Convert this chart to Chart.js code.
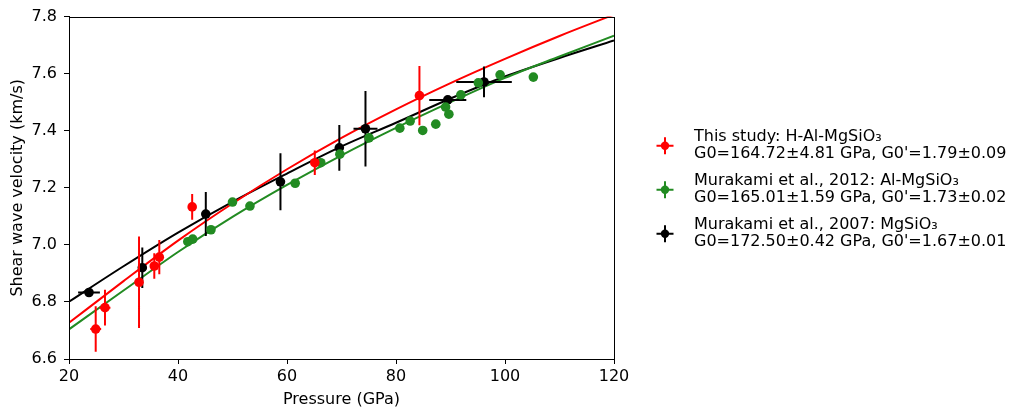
<!DOCTYPE html>
<html>
<head>
<meta charset="utf-8">
<title>Shear wave velocity vs pressure</title>
<script src="https://cdn.jsdelivr.net/npm/chart.js@4.4.1/dist/chart.umd.min.js"></script>
<style>
  html, body { margin: 0; padding: 0; background: #fff; }
  #wrap { position: relative; width: 1017px; height: 416px; }
</style>
</head>
<body>
<div id="wrap"><canvas id="vsChart"></canvas></div>
<script>
// fitted curves, sampled every 10 GPa
const curvePressure = [20, 30, 40, 50, 60, 70, 80, 90, 100, 110, 120];
const curveThisStudy = [6.727, 6.873, 7.015, 7.145, 7.265, 7.375, 7.475, 7.567, 7.652, 7.732, 7.807];
const curveMurakami2012 = [6.704, 6.840, 6.975, 7.098, 7.210, 7.314, 7.410, 7.500, 7.585, 7.660, 7.733];
const curveMurakami2007 = [6.801, 6.925, 7.043, 7.151, 7.250, 7.345, 7.428, 7.513, 7.590, 7.655, 7.716];

// This study: H-Al-MgSiO3
const thisStudyP = [24.9, 26.6, 32.85, 35.65, 36.57, 42.6, 65.1, 84.3];
const thisStudyVs = [6.705, 6.780, 6.869, 6.926, 6.957, 7.133, 7.288, 7.523];
const thisStudyPErr = [1.0, 1.0, 0.7, 0.7, 0.7, 0.7, 0.7, 0.7];
const thisStudyVsErr = [0.080, 0.063, 0.160, 0.045, 0.060, 0.045, 0.043, 0.104];

// Murakami et al., 2012: Al-MgSiO3
const murakami2012P = [41.8, 42.7, 46.05, 50.0, 53.2, 61.5, 66.2, 69.7, 75.05, 80.7, 82.6, 84.9, 87.3, 89.1, 89.7, 91.9, 95.1, 99.1, 105.2];
const murakami2012Vs = [7.011, 7.020, 7.053, 7.150, 7.136, 7.216, 7.288, 7.318, 7.375, 7.409, 7.434, 7.401, 7.423, 7.483, 7.458, 7.526, 7.568, 7.596, 7.588];

// Murakami et al., 2007: MgSiO3
const murakami2007P = [23.67, 33.45, 45.1, 58.8, 69.6, 74.4, 89.5, 96.15];
const murakami2007Vs = [6.833, 6.920, 7.108, 7.221, 7.340, 7.407, 7.508, 7.571];
const murakami2007PErr = [2.0, 0.5, 0.5, 0.5, 0.5, 2.2, 3.4, 5.1];
const murakami2007VsErr = [0.01, 0.071, 0.077, 0.100, 0.080, 0.132, 0.01, 0.054];

const legendTitles = ["This study: H-Al-MgSiO\u2083", "Murakami et al., 2012: Al-MgSiO\u2083", "Murakami et al., 2007: MgSiO\u2083"];
const legendFits = ["G0=164.72\u00b14.81 GPa, G0'=1.79\u00b10.09", "G0=165.01\u00b11.59 GPa, G0'=1.73\u00b10.02", "G0=172.50\u00b10.42 GPa, G0'=1.67\u00b10.01"];

const RED = "#ff0000";
const GREEN = "#228b22";
const BLACK = "#000000";
const seriesColors = [RED, GREEN, BLACK];

const FONT = "DejaVu Sans";
const FONT_SIZE = 16;
Chart.defaults.font.family = FONT;
Chart.defaults.font.size = FONT_SIZE;
Chart.defaults.color = "#000";

function toPoints(xs, ys) {
  return xs.map((x, i) => ({ x: x, y: ys[i] }));
}

function curve(ys, color) {
  return {
    type: "line",
    data: toPoints(curvePressure, ys),
    borderColor: color,
    borderWidth: 2,
    pointRadius: 0,
    cubicInterpolationMode: "monotone",
    clip: 0,
    order: 10,
  };
}

function points(xs, ys, color, xErr, yErr) {
  return {
    type: "scatter",
    data: toPoints(xs, ys),
    backgroundColor: color,
    borderWidth: 0,
    pointRadius: 4.8,
    pointHoverRadius: 4.8,
    errX: xErr,
    errY: yErr,
    order: 1,
  };
}

// x/y error bars, drawn just under each dataset's markers
const errorBars = {
  id: "errorBars",
  beforeDatasetDraw(chart, args) {
    const ds = chart.data.datasets[args.index];
    if (!ds.errX && !ds.errY) return;
    const { ctx, chartArea: a } = chart;
    const xs = chart.scales.x, ys = chart.scales.y;
    ctx.save();
    ctx.beginPath();
    ctx.rect(a.left, a.top, a.right - a.left, a.bottom - a.top);
    ctx.clip();
    ctx.strokeStyle = ds.backgroundColor;
    ctx.lineWidth = 2;
    ctx.beginPath();
    ds.data.forEach((p, i) => {
      const px = xs.getPixelForValue(p.x), py = ys.getPixelForValue(p.y);
      const ex = ds.errX ? ds.errX[i] : 0;
      const ey = ds.errY ? ds.errY[i] : 0;
      if (ex) {
        ctx.moveTo(xs.getPixelForValue(p.x - ex), py);
        ctx.lineTo(xs.getPixelForValue(p.x + ex), py);
      }
      if (ey) {
        ctx.moveTo(px, ys.getPixelForValue(p.y - ey));
        ctx.lineTo(px, ys.getPixelForValue(p.y + ey));
      }
    });
    ctx.stroke();
    ctx.restore();
  },
};

// box around the plot area (top and right sides too)
const frame = {
  id: "frame",
  afterDraw(chart) {
    const { ctx, chartArea: a } = chart;
    ctx.save();
    ctx.strokeStyle = "#000";
    ctx.lineWidth = 1;
    ctx.strokeRect(Math.round(a.left) + 0.5, Math.round(a.top) + 0.5,
      Math.round(a.right - a.left), Math.round(a.bottom - a.top));
    ctx.restore();
  },
};

// legend on the right: errorbar marker plus two text lines per entry
const sideLegend = {
  id: "sideLegend",
  afterDraw(chart) {
    const ctx = chart.ctx;
    const a = chart.chartArea;
    const mid = (a.top + a.bottom) / 2 + 2;
    const gap = 44;
    ctx.save();
    ctx.font = FONT_SIZE + "px '" + FONT + "'";
    ctx.textBaseline = "middle";
    legendTitles.forEach((title, i) => {
      const cy = mid - gap + i * gap;
      const mx = 665;
      ctx.strokeStyle = seriesColors[i];
      ctx.fillStyle = seriesColors[i];
      ctx.lineWidth = 2;
      ctx.beginPath();
      ctx.moveTo(mx - 8.5, cy); ctx.lineTo(mx + 8.5, cy);
      ctx.moveTo(mx, cy - 8.5); ctx.lineTo(mx, cy + 8.5);
      ctx.stroke();
      ctx.beginPath();
      ctx.arc(mx, cy, 4.2, 0, Math.PI * 2);
      ctx.fill();
      ctx.fillStyle = "#000";
      ctx.fillText(title, 694, cy - 8.5);
      ctx.fillText(legendFits[i], 694, cy + 8.5);
    });
    ctx.restore();
  },
};

new Chart(document.getElementById("vsChart"), {
  type: "scatter",
  data: {
    datasets: [
      curve(curveThisStudy, RED),
      curve(curveMurakami2012, GREEN),
      curve(curveMurakami2007, BLACK),
      points(thisStudyP, thisStudyVs, RED, thisStudyPErr, thisStudyVsErr),
      points(murakami2012P, murakami2012Vs, GREEN, null, null),
      points(murakami2007P, murakami2007Vs, BLACK, murakami2007PErr, murakami2007VsErr),
    ],
  },
  options: {
    responsive: true,
    maintainAspectRatio: false,
    animation: false,
    layout: { padding: { left: 0, top: 7, right: 403, bottom: 0 } },
    plugins: {
      legend: { display: false },
      tooltip: { enabled: false },
    },
    scales: {
      x: {
        type: "linear",
        min: 20,
        max: 120,
        afterFit(scale) { scale.height = 57; },
        ticks: { stepSize: 20, padding: 3 },
        grid: { drawOnChartArea: false, tickLength: 5, color: "#000" },
        border: { color: "#000" },
        title: { display: true, text: "Pressure (GPa)", padding: { bottom: 7 } },
      },
      y: {
        type: "linear",
        min: 6.6,
        max: 7.8,
        afterFit(scale) { scale.width = 69; },
        ticks: { stepSize: 0.2, padding: 7, callback: (v) => v.toFixed(1) },
        grid: { drawOnChartArea: false, tickLength: 5, color: "#000" },
        border: { color: "#000" },
        title: { display: true, text: "Shear wave velocity (km/s)", padding: { top: 8 } },
      },
    },
  },
  plugins: [errorBars, frame, sideLegend],
});
</script>
</body>
</html>
